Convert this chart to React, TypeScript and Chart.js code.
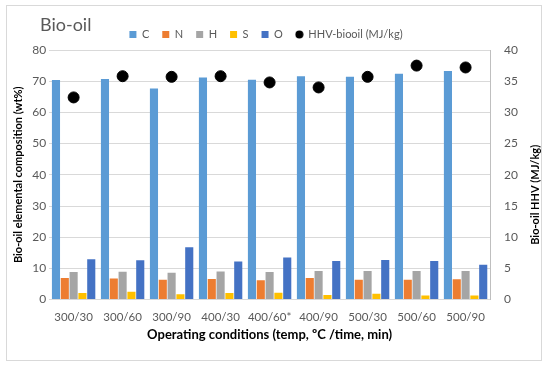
import React, { useEffect, useRef } from "react";
import { Chart, registerables } from "chart.js";
Chart.register(...registerables);

const categories = ["300/30", "300/60", "300/90", "400/30", "400/60*", "400/90", "500/30", "500/60", "500/90"];
const cValues = [70.4, 70.7, 67.7, 71.2, 70.5, 71.6, 71.4, 72.4, 73.3];
const nValues = [6.9, 6.8, 6.4, 6.6, 6.2, 6.9, 6.4, 6.4, 6.5];
const hValues = [8.85, 8.9, 8.6, 9.0, 8.85, 9.2, 9.2, 9.2, 9.2];
const sValues = [2.1, 2.5, 1.7, 2.1, 2.2, 1.5, 1.9, 1.3, 1.3];
const oValues = [12.9, 12.6, 16.8, 12.2, 13.5, 12.4, 12.7, 12.4, 11.2];
const hhvValues = [32.4, 35.8, 35.7, 35.8, 34.8, 34.0, 35.7, 37.5, 37.2];

const FONT = "Lato, 'Open Sans', sans-serif";

export default function App() {
  const ref = useRef<HTMLCanvasElement>(null);
  useEffect(() => {
    document.body.style.margin = "0";
    const dot = document.createElement("canvas");
    dot.width = 9;
    dot.height = 9;
    const dctx = dot.getContext("2d")!;
    dctx.fillStyle = "#000";
    dctx.beginPath();
    dctx.arc(4.5, 4.5, 4, 0, Math.PI * 2);
    dctx.fill();

    const textPlugin = {
      id: "extraText",
      afterDraw(chart: any) {
        const ctx = chart.ctx;
        ctx.save();
        ctx.font = `18px ${FONT}`;
        ctx.fillStyle = "#595959";
        ctx.textBaseline = "middle";
        ctx.fillText("Bio-oil", 40, 25);
        const area = chart.chartArea;
        ctx.translate(535, (area.top + area.bottom) / 2 + 20);
        ctx.rotate(-Math.PI / 2);
        ctx.textAlign = "center";
        ctx.fillStyle = "#000";
        ctx.font = `bold 11px ${FONT}`;
        ctx.fillText("Bio-oil HHV (MJ/kg)", 0, 0);
        ctx.restore();
      },
    };
    const barCommon = { pointStyle: "rect", borderWidth: 0, barPercentage: 0.92, categoryPercentage: 0.9 };
    const chart = new Chart(ref.current!, {
      type: "bar",
      data: {
        labels: categories,
        datasets: [
          { label: "C", data: cValues, backgroundColor: "#5B9BD5", ...barCommon, order: 2 },
          { label: "N", data: nValues, backgroundColor: "#ED7D31", ...barCommon, order: 2 },
          { label: "H", data: hValues, backgroundColor: "#A5A5A5", ...barCommon, order: 2 },
          { label: "S", data: sValues, backgroundColor: "#FFC000", ...barCommon, order: 2 },
          { label: "O", data: oValues, backgroundColor: "#4472C4", ...barCommon, order: 2 },
          {
            type: "line",
            label: "HHV-biooil (MJ/kg)",
            data: hhvValues,
            yAxisID: "y1",
            showLine: false,
            pointStyle: "circle",
            pointRadius: 5.5,
            backgroundColor: "#000000",
            borderColor: "#000000",
            order: 1,
          } as any,
        ],
      },
      options: {
        animation: false,
        responsive: false,
        layout: { padding: { left: 8, right: 26, top: 16, bottom: 19 } },
        plugins: {
          tooltip: { enabled: false },
          legend: {
            position: "top",
            labels: {
              usePointStyle: true,
              boxWidth: 7,
              boxHeight: 7,
              padding: 13,
              color: "#595959",
              font: { family: FONT, size: 11 },
              sort: (a: any, b: any) => a.datasetIndex - b.datasetIndex,
              generateLabels: (c: any) => {
                const items = Chart.defaults.plugins.legend.labels.generateLabels(c);
                items.forEach((it: any) => {
                  if (it.datasetIndex === 5) it.pointStyle = dot;
                });
                return items;
              },
            },
          },
        },
        scales: {
          x: {
            grid: { display: false, drawTicks: true },
            border: { color: "#d9d9d9" },
            ticks: { color: "#595959", maxRotation: 0, autoSkip: false, font: { family: FONT, size: 11.5 } },
            title: {
              display: true,
              text: "Operating conditions (temp, ºC /time, min)",
              color: "#000",
              padding: { top: 0, bottom: 4 },
              font: { family: FONT, size: 13, weight: "bold" },
            },
          },
          y: {
            min: 0,
            max: 80,
            ticks: { stepSize: 10, color: "#595959", font: { family: FONT, size: 12 } },
            grid: { color: "#d9d9d9", drawTicks: false },
            border: { display: false },
            title: {
              display: true,
              text: "Bio-oil elemental composition (wt%)",
              color: "#000",
              font: { family: FONT, size: 11, weight: "bold" },
            },
          },
          y1: {
            position: "right",
            min: 0,
            max: 40,
            ticks: { stepSize: 5, color: "#595959", padding: 6, font: { family: FONT, size: 12 } },
            grid: { display: false },
            border: { color: "#bfbfbf" },
          },
        },
      },
      plugins: [textPlugin],
    } as any);
    return () => chart.destroy();
  }, []);
  return (
    <div style={{ width: 550, height: 366, position: "relative" }}>
      <div
        style={{
          position: "absolute",
          left: 6,
          top: 5,
          width: 536,
          height: 356,
          border: "1px solid #d9d9d9",
          boxSizing: "border-box",
        }}
      />
      <canvas ref={ref} width={550} height={366} style={{ position: "absolute", left: 0, top: 0 }} />
    </div>
  );
}
